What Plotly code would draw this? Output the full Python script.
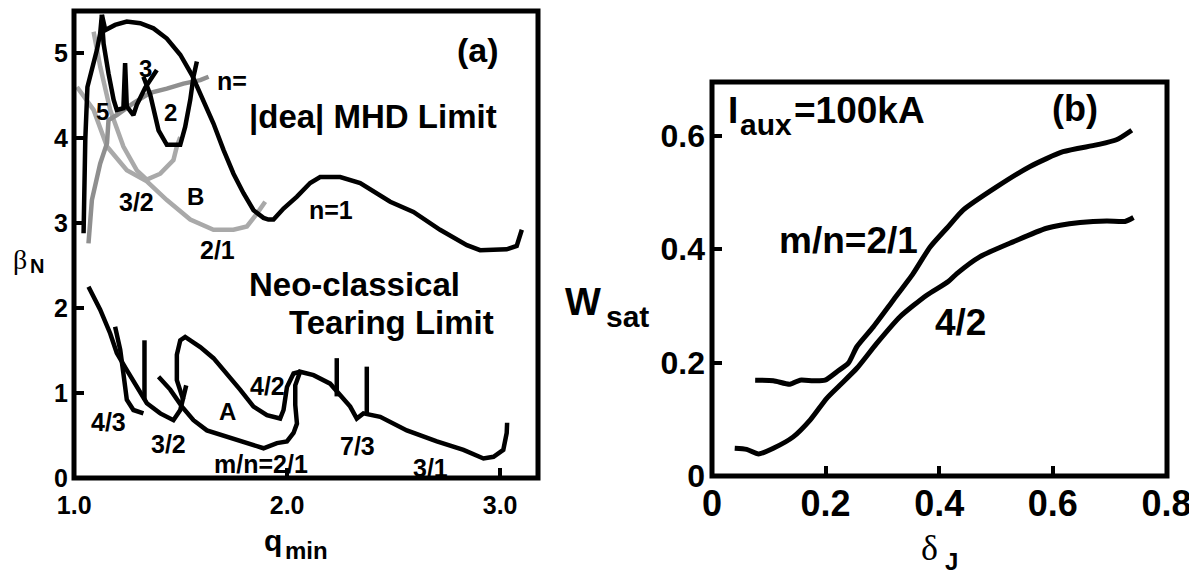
import plotly.graph_objects as go

# page is shown with an 8 px body margin; size the figure to fill the rest
OFF = 8
W, H = 1197 - OFF, 575 - OFF
SANS = "Liberation Sans, Arial, sans-serif"
SERIF = "Liberation Serif, Times New Roman, serif"

# ---------------- Panel (a): beta_N vs q_min ----------------
# ideal-MHD limit, black trajectories
trunk_q = [1.044, 1.047, 1.052, 1.062, 1.083, 1.107, 1.122, 1.130]
trunk_b = [2.88, 3.43, 3.98, 4.60, 4.80, 5.04, 5.23, 5.45]

n1_q = [1.130, 1.146, 1.192, 1.247, 1.310, 1.372, 1.435, 1.498, 1.553, 1.607, 1.654, 1.701,
        1.748, 1.795, 1.842, 1.889, 1.912, 1.936, 1.983, 2.046, 2.108, 2.155, 2.249, 2.343,
        2.484, 2.593, 2.718, 2.844, 2.906, 3.031, 3.078, 3.102]
n1_b = [5.45, 5.27, 5.33, 5.37, 5.35, 5.29, 5.17, 4.98, 4.74, 4.45, 4.17, 3.86,
        3.58, 3.35, 3.15, 3.06, 3.04, 3.04, 3.17, 3.31, 3.47, 3.54, 3.54, 3.47,
        3.25, 3.13, 2.92, 2.74, 2.68, 2.69, 2.73, 2.92]

w_q = [1.130, 1.138, 1.161, 1.185, 1.200, 1.231, 1.239, 1.247, 1.278, 1.294, 1.333, 1.388]
w_b = [5.39, 5.11, 4.76, 4.45, 4.33, 4.35, 4.88, 4.37, 4.27, 4.39, 4.59, 4.80]

n2_q = [1.325, 1.357, 1.396, 1.420, 1.435, 1.498, 1.521, 1.545, 1.560, 1.576]
n2_b = [4.72, 4.51, 4.09, 3.98, 3.92, 3.92, 4.13, 4.45, 4.72, 4.90]

# grey trajectories
gA_q = [1.091, 1.122, 1.169, 1.231, 1.294, 1.341, 1.404, 1.466, 1.482, 1.498]
gA_b = [5.25, 4.84, 4.33, 3.90, 3.62, 3.51, 3.58, 3.74, 3.90, 4.01]

gB_q = [1.013, 1.091, 1.154, 1.247, 1.341, 1.435, 1.545, 1.654, 1.748, 1.811, 1.858, 1.897]
gB_b = [4.60, 4.33, 3.90, 3.62, 3.49, 3.27, 3.04, 2.92, 2.92, 2.96, 3.11, 3.25]

gC_q = [1.067, 1.083, 1.122, 1.154, 1.161, 1.200, 1.278, 1.357, 1.435, 1.513, 1.592, 1.631]
gC_b = [2.76, 3.27, 3.70, 3.94, 4.21, 4.27, 4.41, 4.53, 4.58, 4.64, 4.68, 4.72]

# neo-classical tearing limit, black trajectories
t43a_q = [1.067, 1.122, 1.169, 1.200, 1.247, 1.294, 1.341, 1.404, 1.466, 1.498, 1.512, 1.526]
t43a_b = [2.25, 1.98, 1.70, 1.47, 1.27, 1.07, 0.88, 0.76, 0.68, 0.80, 0.94, 1.09]

t43b_q = [1.192, 1.216, 1.231, 1.247, 1.278, 1.325]
t43b_b = [1.78, 1.51, 1.23, 0.92, 0.80, 0.76]

spk1_q = [1.330, 1.330]
spk1_b = [1.62, 0.92]

t32_q = [1.396, 1.451, 1.506, 1.560, 1.623, 1.717, 1.811, 1.889, 1.952, 1.999, 2.030, 2.046,
         2.038, 2.038, 2.061, 2.124, 2.202, 2.257, 2.296, 2.327, 2.358, 2.437, 2.562, 2.703,
         2.828, 2.922, 2.969, 3.015, 3.031, 3.033]
t32_b = [1.19, 1.04, 0.84, 0.68, 0.56, 0.49, 0.41, 0.35, 0.41, 0.43, 0.53, 0.64,
         0.86, 1.09, 1.25, 1.21, 1.11, 0.96, 0.84, 0.70, 0.76, 0.72, 0.56, 0.43,
         0.33, 0.23, 0.25, 0.33, 0.53, 0.65]

t42_q = [1.512, 1.482, 1.482, 1.498, 1.521, 1.592, 1.654, 1.717, 1.779, 1.842, 1.905, 1.967,
         1.983, 1.999, 2.030, 2.061]
t42_b = [0.92, 1.15, 1.45, 1.62, 1.66, 1.54, 1.41, 1.23, 1.04, 0.84, 0.74, 0.70,
         0.80, 1.07, 1.23, 1.25]

spk2_q = [2.233, 2.233]
spk2_b = [0.96, 1.41]
spk3_q = [2.374, 2.374]
spk3_b = [0.76, 1.31]

# ---------------- Panel (b): W_sat vs delta_J ----------------
m21_d = [0.076, 0.108, 0.137, 0.155, 0.178, 0.199, 0.220, 0.240, 0.255, 0.284, 0.319,
         0.354, 0.384, 0.416, 0.442, 0.501, 0.560, 0.618, 0.677, 0.712, 0.739]
m21_w = [0.169, 0.168, 0.162, 0.169, 0.168, 0.169, 0.184, 0.199, 0.228, 0.263, 0.310,
         0.357, 0.404, 0.440, 0.469, 0.510, 0.546, 0.572, 0.584, 0.593, 0.610]

m42_d = [0.040, 0.061, 0.082, 0.108, 0.143, 0.173, 0.202, 0.225, 0.255, 0.290, 0.331,
         0.378, 0.416, 0.431, 0.472, 0.530, 0.589, 0.648, 0.695, 0.727, 0.742]
m42_w = [0.049, 0.047, 0.039, 0.049, 0.069, 0.099, 0.137, 0.160, 0.190, 0.234, 0.281,
         0.319, 0.343, 0.357, 0.387, 0.413, 0.437, 0.447, 0.450, 0.449, 0.456]

a_xticks = [1.0, 2.0, 3.0]
a_xticktext = ["1.0", "2.0", "3.0"]
a_yticks = [0, 1, 2, 3, 4, 5]
b_xticks = [0, 0.2, 0.4, 0.6, 0.8]
b_xticktext = ["0", "0.2", "0.4", "0.6", "0.8"]
b_yticks = [0, 0.2, 0.4, 0.6]
b_yticktext = ["0", "0.2", "0.4", "0.6"]

BLACK = "#000000"
GREY_L = "#a9a9a9"
GREY_M = "#8f8f8f"

fig = go.Figure()


def add_a(q, b, color=BLACK, width=4.5):
    fig.add_trace(go.Scatter(x=q, y=b, mode="lines", xaxis="x", yaxis="y",
                             line=dict(color=color, width=width),
                             showlegend=False, hoverinfo="skip"))


def add_b(d, w):
    fig.add_trace(go.Scatter(x=d, y=w, mode="lines", xaxis="x2", yaxis="y2",
                             line=dict(color=BLACK, width=5, shape="spline", smoothing=0.6),
                             showlegend=False, hoverinfo="skip"))


add_a(gB_q, gB_b, GREY_L)
add_a(gA_q, gA_b, GREY_L)
add_a(gC_q, gC_b, GREY_M)
for q, b in [(trunk_q, trunk_b), (n1_q, n1_b), (w_q, w_b), (n2_q, n2_b),
             (t43a_q, t43a_b), (t43b_q, t43b_b), (spk1_q, spk1_b), (t32_q, t32_b),
             (t42_q, t42_b), (spk2_q, spk2_b), (spk3_q, spk3_b)]:
    add_a(q, b)

add_b(m21_d, m21_w)
add_b(m42_d, m42_w)

axis_common = dict(showgrid=False, zeroline=False, showline=False,
                   ticks="inside", tickcolor=BLACK,
                   tickwidth=4, ticklen=10, automargin=False)


def px2paper(px, py):
    return (px - OFF) / W, 1 - (py - OFF) / H


def xdom(p0, p1):
    return [(p0 - OFF) / W, (p1 - OFF) / W]


def ydom(top, bottom):
    return [1 - (bottom - OFF) / H, 1 - (top - OFF) / H]


fig.update_layout(
    template="none",
    width=W, height=H, margin=dict(l=0, r=0, t=0, b=0, pad=0),
    paper_bgcolor="white", plot_bgcolor="white",
    xaxis=dict(domain=xdom(74, 538), range=[0.999, 3.178], anchor="y",
               tickvals=a_xticks, ticktext=a_xticktext, ticklabelstandoff=10,
               tickfont=dict(family=SANS, size=25, color=BLACK, weight="bold"),
               **axis_common),
    yaxis=dict(domain=ydom(11, 478), range=[0, 5.494], anchor="x",
               tickvals=a_yticks, ticklabelstandoff=5,
               tickfont=dict(family=SANS, size=25, color=BLACK, weight="bold"),
               **axis_common),
    xaxis2=dict(domain=xdom(712, 1167), range=[0, 0.801], anchor="y2",
                tickvals=b_xticks, ticktext=b_xticktext, ticklabelstandoff=3,
                tickfont=dict(family=SANS, size=36, color=BLACK, weight="bold"),
                **axis_common),
    yaxis2=dict(domain=ydom(82, 476), range=[0, 0.695], anchor="x2",
                tickvals=b_yticks, ticktext=b_yticktext, ticklabelstandoff=6,
                tickfont=dict(family=SANS, size=32, color=BLACK, weight="bold"),
                **axis_common),
)

# thick black frames around both panels
fig.add_shape(type="rect", xref="x domain", yref="y domain", x0=0, x1=1, y0=0, y1=1,
              line=dict(color=BLACK, width=5), fillcolor="rgba(0,0,0,0)", layer="above")
fig.add_shape(type="rect", xref="x2 domain", yref="y2 domain", x0=0, x1=1, y0=0, y1=1,
              line=dict(color=BLACK, width=5), fillcolor="rgba(0,0,0,0)", layer="above")

anns = []


def ann(text, px, py, size, xanchor="center", family=SANS, bold=True):
    x, y = px2paper(px, py)
    anns.append(dict(text=text, x=x, y=y, xref="paper", yref="paper", showarrow=False,
                     xanchor=xanchor, yanchor="middle",
                     font=dict(family=family, size=size, color=BLACK,
                               weight="bold" if bold else "normal")))


# panel (a) text
ann("(a)", 478, 50, 34)
ann("|dea| MHD Limit", 247, 117, 33, xanchor="left")
ann("Neo-classical", 247, 284, 33, xanchor="left")
ann("Tearing Limit", 287, 322, 33, xanchor="left")
ann("n=", 232, 81, 25)
ann("5", 102, 111, 24)
ann("3", 145, 68, 24)
ann("2", 170, 113, 24)
ann("3/2", 136, 202, 25)
ann("B", 195, 197, 24)
ann("2/1", 217, 250, 25)
ann("n=1", 331, 210, 25)
ann("4/3", 108, 422, 25)
ann("3/2", 169, 444, 25)
ann("A", 227, 411, 24)
ann("4/2", 267, 386, 25)
ann("m/n=2/1", 261, 464, 25)
ann("7/3", 357, 446, 25)
ann("3/1", 430, 468, 25)
ann("β", 20, 259, 28, family=SERIF, bold=False)
ann("N", 37, 266, 20)
ann("q", 284, 540, 30, xanchor="right")
ann("min", 283, 550, 24, xanchor="left")

# panel (b) text
ann("I", 726, 110, 37, xanchor="left")
ann("aux", 738, 124, 30, xanchor="left")
ann("=100kA", 792, 110, 37, xanchor="left")
ann("(b)", 1075, 109, 36)
ann("m/n=2/1", 848, 240, 37)
ann("4/2", 960, 322, 37)
ann("W", 603, 302, 38, xanchor="right")
ann("sat", 604, 316, 30, xanchor="left")
ann("δ", 929, 548, 36, family=SERIF, bold=False)
ann("J", 951, 561, 24)

fig.update_layout(annotations=anns)
fig.write_html("out.html")
